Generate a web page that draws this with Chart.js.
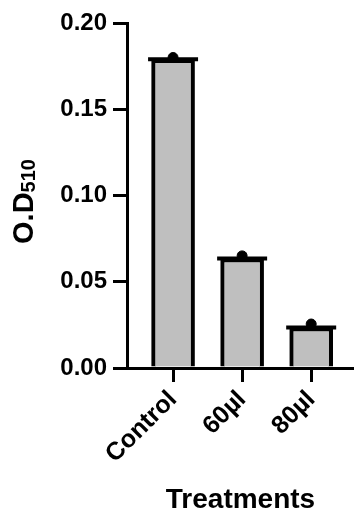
<!DOCTYPE html>
<html>
<head>
<meta charset="utf-8">
<script src="https://cdn.jsdelivr.net/npm/chart.js@4/dist/chart.umd.min.js"></script>
<style>
  body { margin: 0; background: #fff; }
</style>
</head>
<body>
<canvas id="Chart" width="354" height="510"></canvas>
<script>
// Данные графика
var categories = ['Control', '60µl', '80µl'];
var meanValues = [0.179, 0.0635, 0.0235];
var pointValues = [0.180, 0.065, 0.0255];
var yTicks = [0, 0.05, 0.10, 0.15, 0.20];

var fontFamily = "Arial, 'Liberation Sans', sans-serif";

function toXY(values) {
    return values.map(function (v, i) { return {x: i, y: v}; });
}

// Подпись оси Y с нижним индексом: O.D510
var yTitlePlugin = {
    id: 'yTitle',
    afterDraw: function (chart) {
        var ctx = chart.ctx;
        var area = chart.chartArea;
        ctx.save();
        ctx.translate(33, (area.top + area.bottom) / 2 + 6);
        ctx.rotate(-Math.PI / 2);
        ctx.fillStyle = '#000';
        ctx.textBaseline = 'alphabetic';
        ctx.font = 'bold 29px ' + fontFamily;
        var mainW = ctx.measureText('O.D').width;
        ctx.font = 'bold 20px ' + fontFamily;
        var subW = ctx.measureText('510').width;
        var start = -(mainW + subW) / 2;
        ctx.font = 'bold 29px ' + fontFamily;
        ctx.fillText('O.D', start, 0);
        ctx.font = 'bold 20px ' + fontFamily;
        ctx.fillText('510', start + mainW, 2);
        ctx.restore();
    }
};

var context = document.getElementById('Chart').getContext('2d');

var myChart = new Chart(context, {
    type: 'bar',
    data: {
        datasets: [{
            type: 'scatter',
            data: toXY(pointValues),
            pointStyle: 'circle',
            pointRadius: 5,
            backgroundColor: '#000',
            borderColor: '#000',
            order: 1
        }, {
            type: 'scatter',
            data: toXY(meanValues),
            pointStyle: 'line',
            pointRadius: 25,
            borderWidth: 4,
            borderColor: '#000',
            order: 2
        }, {
            type: 'bar',
            data: toXY(meanValues),
            backgroundColor: '#bfbfbf',
            borderColor: '#000',
            borderWidth: 4,
            barThickness: 43,
            order: 3
        }]
    },
    options: {
        responsive: false,
        animation: false,
        events: [],
        layout: {
            autoPadding: false, // иначе радиус "линии" сдвигает область графика
            padding: {top: 23, right: 0, bottom: 0, left: 0}
        },
        plugins: {
            legend: {display: false},
            tooltip: {enabled: false}
        },
        scales: {
            x: {
                type: 'linear',
                offset: false,
                min: -0.667,
                max: 2.62,
                afterFit: function (scale) {
                    scale.height = 142;
                    scale.paddingLeft = 0;
                    scale.paddingRight = 0;
                },
                afterBuildTicks: function (scale) {
                    scale.ticks = categories.map(function (c, i) { return {value: i}; });
                },
                grid: {
                    offset: false,
                    drawOnChartArea: false,
                    color: '#000',
                    lineWidth: 3,
                    tickLength: 14
                },
                border: {color: '#000', width: 3},
                ticks: {
                    color: '#000',
                    font: {family: fontFamily, size: 25, weight: 'bold'},
                    maxRotation: 45,
                    minRotation: 45,
                    padding: 3,
                    callback: function (v) { return categories[v]; }
                },
                title: {
                    display: true,
                    text: 'Treatments',
                    color: '#000',
                    font: {family: fontFamily, size: 28, weight: 'bold'},
                    padding: {top: 0, bottom: -7}
                }
            },
            y: {
                min: 0,
                max: 0.2,
                afterFit: function (scale) { scale.width = 127; },
                afterBuildTicks: function (scale) {
                    scale.ticks = yTicks.map(function (v) { return {value: v}; });
                },
                grid: {
                    drawOnChartArea: false,
                    color: '#000',
                    lineWidth: 3,
                    tickLength: 14
                },
                border: {color: '#000', width: 3},
                ticks: {
                    color: '#000',
                    font: {family: fontFamily, size: 24, weight: 'bold'},
                    padding: 6,
                    callback: function (v) { return v.toFixed(2); }
                }
            }
        }
    },
    plugins: [yTitlePlugin]
});
</script>
</body>
</html>
